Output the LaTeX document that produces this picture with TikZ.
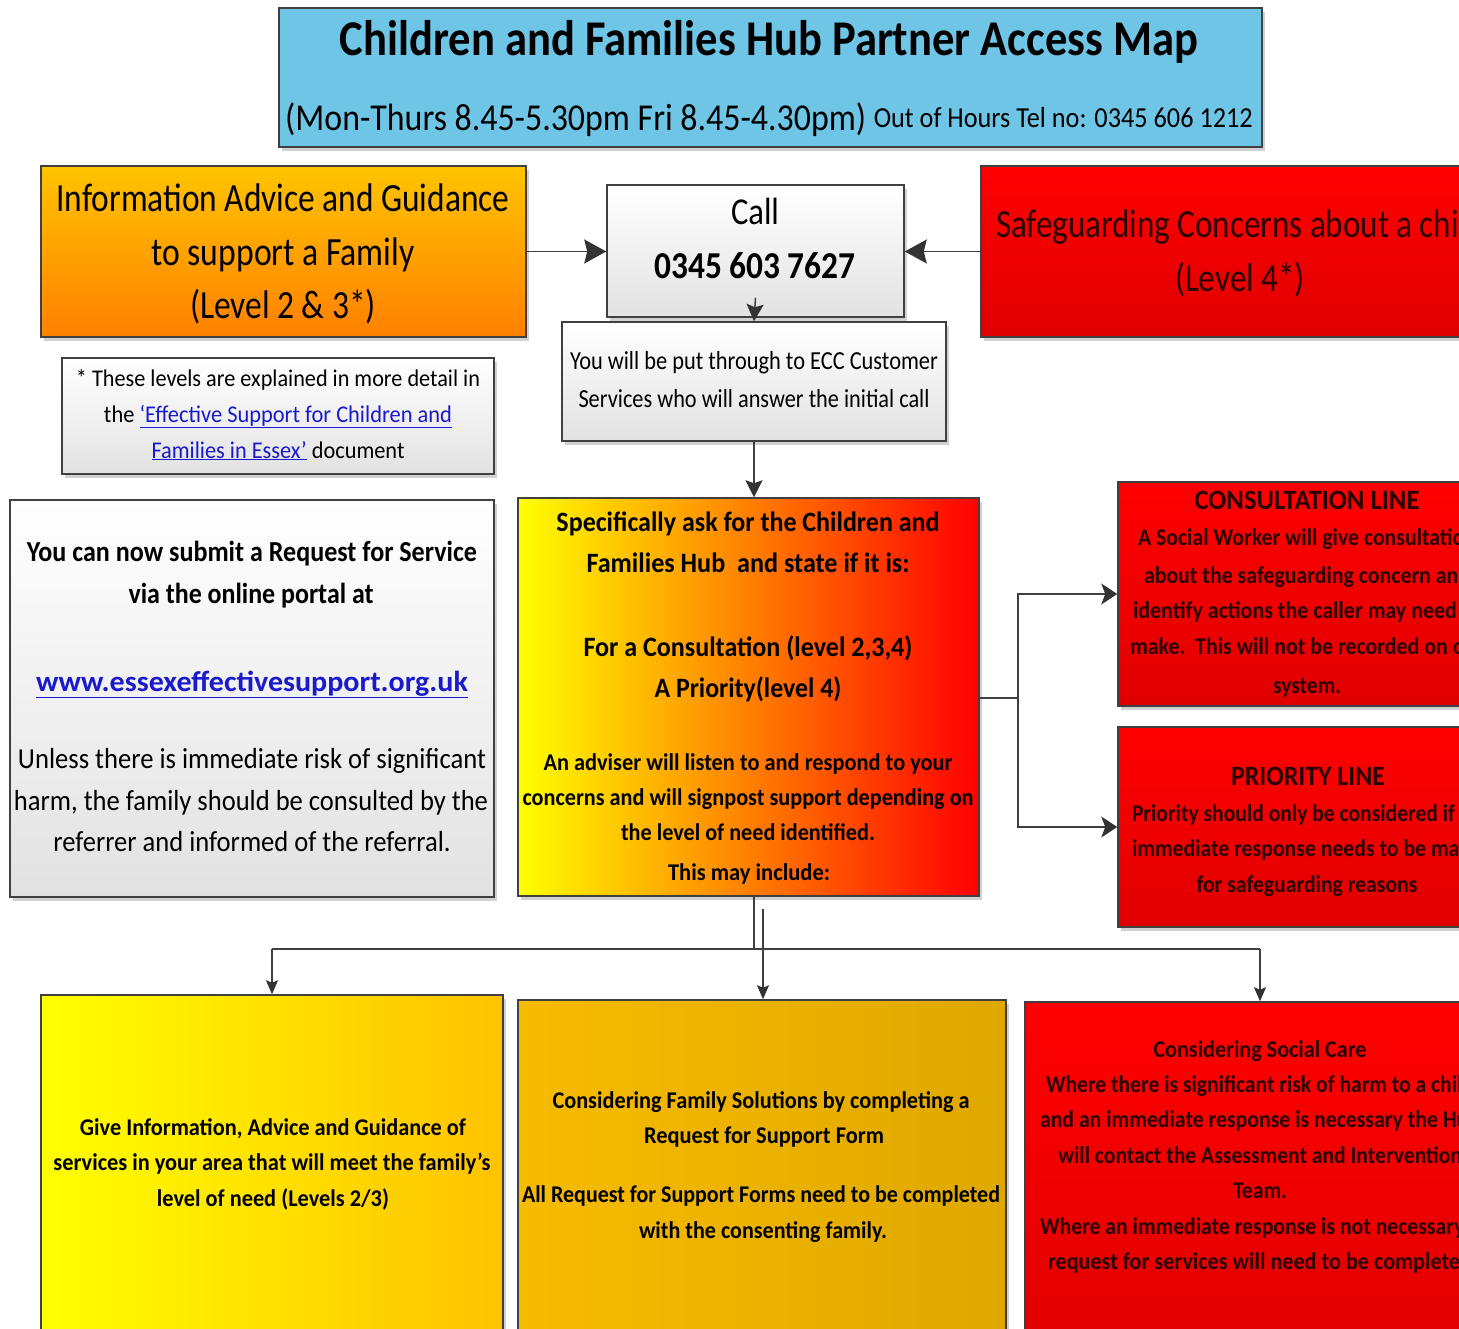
\documentclass[tikz,border=0pt]{standalone}
\usepackage{fontspec}
\setmainfont{Carlito}
\usepackage{graphicx}
\usetikzlibrary{arrows.meta,shadows,fit}

\definecolor{titleblue}{HTML}{6EC5E6}
\definecolor{edge}{HTML}{404040}
\definecolor{tipc}{HTML}{333333}
\definecolor{linkblue}{HTML}{1A1ACC}
\definecolor{greytop}{HTML}{FFFFFF}
\definecolor{greybot}{HTML}{E2E2E2}
\definecolor{iagtop}{HTML}{FFC400}
\definecolor{iagbot}{HTML}{FF8000}
\definecolor{redtop}{HTML}{FF0000}
\definecolor{redbot}{HTML}{E00000}
\definecolor{hubl}{HTML}{FFFF00}
\definecolor{hubm}{HTML}{FF9A00}
\definecolor{hubr}{HTML}{FF0000}
\definecolor{al}{HTML}{FFFF00}
\definecolor{ar}{HTML}{FFC200}
\definecolor{bl}{HTML}{F7BB00}
\definecolor{br}{HTML}{DFA800}
\definecolor{redtext}{HTML}{2A0000}

\newcommand\fz[1]{\fontsize{#1}{#1}\selectfont}
\newcommand\lnk[1]{\textcolor{linkblue}{\underline{#1}}}
\newcommand\tl[5]{\node[tline,#1] (#2) at (#3) {\resizebox{#4pt}{\height}{#5}};}

\tikzset{
  box/.style={draw=edge, line width=1.5pt, inner sep=0pt,
    drop shadow={shadow xshift=3pt, shadow yshift=-4pt, fill=black!18, opacity=1}},
  greybox/.style={box, top color=greytop, bottom color=greybot},
  redbox/.style={box, top color=redtop, bottom color=redbot},
  conn/.style={draw=edge, line width=1.5pt},
  arr/.style={conn, -{Stealth[length=22pt,width=24pt,inset=3pt,color=tipc]}},
  marr/.style={conn, -{Stealth[length=17pt,width=17pt,inset=3pt,color=tipc]}},
  rarr/.style={conn, -{Stealth[length=16pt,width=21pt,inset=4pt,color=tipc]}},
  sarr/.style={conn, -{Stealth[length=14pt,width=12pt,inset=2.5pt,color=tipc]}},
  tline/.style={anchor=base, inner sep=0pt, text=black},
  rt/.style={text=redtext},
}

\begin{document}
\begin{tikzpicture}[x=1pt,y=-1pt]
\useasboundingbox (0,0) rectangle (1459,1329);
\clip (0,0) rectangle (1459,1329);
\fill[white] (0,0) rectangle (1459,1329);

% ---------- boxes ----------
\node[box, fill=titleblue, fit={(279,8) (1262,147)}] (title) {};
\node[box, top color=iagtop, bottom color=iagbot, fit={(41,166) (526,337)}] (iag) {};
\node[greybox, fit={(607,185) (904,317)}] (call) {};
\node[redbox, fit={(981,166) (1496,337)}] (sg) {};
\node[greybox, fit={(562,322) (946,441)}] (ecc) {};
\node[greybox, fit={(62,358) (494,474)}] (note) {};
\node[greybox, fit={(10,500) (494,897)}] (portal) {};
\node[box, left color=hubl, middle color=hubm, right color=hubr, fit={(518,498) (979,896)}] (hub) {};
\node[redbox, fit={(1118,482) (1496,706)}] (cons) {};
\node[redbox, fit={(1118,727) (1496,927)}] (prio) {};
\node[box, left color=al, right color=ar, fit={(41,995) (503,1360)}] (boxa) {};
\node[box, left color=bl, right color=br, fit={(518,1000) (1006,1360)}] (boxb) {};
\node[redbox, fit={(1025,1002) (1495,1360)}] (boxc) {};

% ---------- connectors ----------
\draw[arr] (iag.east) -- (iag.east -| call.west);
\draw[arr] (sg.west) -- (sg.west -| call.east);
\draw[marr] ([yshift=20pt]call.south) -- (ecc.north);
\draw[marr] (ecc.south) -- (ecc.south |- hub.north);
\coordinate (hj) at (1018,698);
\draw[conn] (hub.east |- hj) -- (hj);
\draw[rarr] (hj) |- (cons.west);
\draw[rarr] (hj) |- (prio.west);
\coordinate (bj) at (754,949);
\coordinate (bleft) at (272,949);
\coordinate (bright) at (1260,949);
\coordinate (bm) at (763,909);
\draw[conn] (bj |- hub.south) -- (bj);
\draw[conn] (bleft) -- (bright);
\draw[sarr] (bleft) -- (bleft |- boxa.north);
\draw[sarr] (bright) -- (bright |- boxc.north);
\draw[sarr] (bm) -- (bm |- boxb.north);

% ---------- title ----------
\tl{font=\fz{50}\bfseries}{t1}{769,56}{858}{Children and Families Hub Partner Access Map}
\tl{font=\fz{38},anchor=base west}{t2}{285,131}{581}{(Mon-Thurs 8.45-5.30pm Fri 8.45-4.30pm)}
\tl{font=\fz{29},anchor=base east}{t3}{1253,128}{379}{Out of Hours Tel no: 0345 606 1212}

% ---------- IAG ----------
\tl{font=\fz{40}}{iag1}{283,212}{453}{Information Advice and Guidance}
\tl{font=\fz{40}}{iag2}{283,266}{263}{to support a Family}
\tl{font=\fz{40}}{iag3}{283,319}{186}{(Level 2 \& 3*)}

% ---------- call ----------
\tl{font=\fz{38}}{call1}{755,225}{48}{Call}
\tl{font=\fz{38}\bfseries}{call2}{755,279}{201}{0345 603 7627}

% ---------- safeguarding ----------
\tl{font=\fz{40},rt}{sg1}{1240,238}{488}{Safeguarding Concerns about a child}
\tl{font=\fz{40},rt}{sg2}{1240,292}{130}{(Level 4*)}

% ---------- ECC ----------
\tl{font=\fz{26}}{ecc1}{754,370}{368}{You will be put through to ECC Customer}
\tl{font=\fz{26}}{ecc2}{754,407}{351}{Services who will answer the initial call}

% ---------- note ----------
\tl{font=\fz{24}}{n1}{278,387}{404}{* These levels are explained in more detail in}
\tl{font=\fz{24}}{n2}{278,422}{348}{the \lnk{‘Effective Support for Children and}}
\tl{font=\fz{24}}{n3}{278,458}{253}{\lnk{Families in Essex’} document}

% ---------- portal ----------
\tl{font=\fz{29}\bfseries}{p1}{252,561}{450}{You can now submit a Request for Service}
\tl{font=\fz{29}\bfseries}{p2}{251,603}{245}{via the online portal at}
\tl{font=\fz{29}\bfseries}{p3}{252,691}{432}{\lnk{www.essexeffectivesupport.org.uk}}
\tl{font=\fz{29}}{p4}{252,768}{468}{Unless there is immediate risk of significant}
\tl{font=\fz{29}}{p5}{251,810}{474}{harm, the family should be consulted by the}
\tl{font=\fz{29}}{p6}{252,851}{397}{referrer and informed of the referral.}

% ---------- hub ----------
\tl{font=\fz{28}\bfseries}{h1}{748,531}{383}{Specifically ask for the Children and}
\tl{font=\fz{28}\bfseries}{h2}{748,572}{323}{Families Hub\ \ and state if it is:}
\tl{font=\fz{28}\bfseries}{h3}{748,656}{329}{For a Consultation (level 2,3,4)}
\tl{font=\fz{28}\bfseries}{h4}{748,697}{187}{A Priority(level 4)}
\tl{font=\fz{24}\bfseries}{h5}{748,770}{409}{An adviser will listen to and respond to your}
\tl{font=\fz{24}\bfseries}{h6}{748,805}{451}{concerns and will signpost support depending on}
\tl{font=\fz{24}\bfseries}{h7}{748,840}{254}{the level of need identified.}
\tl{font=\fz{24}\bfseries}{h8}{749,880}{162}{This may include:}

% ---------- consultation ----------
\tl{font=\fz{28}\bfseries,rt}{c1}{1307,509}{225}{CONSULTATION LINE}
\tl{font=\fz{24}\bfseries,rt}{c2}{1307,545}{338}{A Social Worker will give consultation}
\tl{font=\fz{24}\bfseries,rt}{c3}{1307,583}{326}{about the safeguarding concern and}
\tl{font=\fz{24}\bfseries,rt}{c4}{1307,618}{348}{identify actions the caller may need to}
\tl{font=\fz{24}\bfseries,rt}{c5}{1307,654}{354}{make.\ \ This will not be recorded on our}
\tl{font=\fz{24}\bfseries,rt}{c6}{1307,693}{68}{system.}

% ---------- priority ----------
\tl{font=\fz{28}\bfseries,rt}{r1}{1308,785}{154}{PRIORITY LINE}
\tl{font=\fz{24}\bfseries,rt}{r2}{1307,821}{350}{Priority should only be considered if an}
\tl{font=\fz{24}\bfseries,rt}{r3}{1307,856}{350}{immediate response needs to be made}
\tl{font=\fz{24}\bfseries,rt}{r4}{1307,892}{221}{for safeguarding reasons}

% ---------- bottom boxes ----------
\tl{font=\fz{24}\bfseries}{a1}{273,1135}{386}{Give Information, Advice and Guidance of}
\tl{font=\fz{24}\bfseries}{a2}{272,1170}{437}{services in your area that will meet the family's}
\tl{font=\fz{24}\bfseries}{a3}{273,1206}{232}{level of need (Levels 2/3)}

\tl{font=\fz{24}\bfseries}{b1}{761,1108}{417}{Considering Family Solutions by completing a}
\tl{font=\fz{24}\bfseries}{b2}{764,1143}{240}{Request for Support Form}
\tl{font=\fz{24}\bfseries}{b3}{761,1202}{478}{All Request for Support Forms need to be completed}
\tl{font=\fz{24}\bfseries}{b4}{763,1238}{248}{with the consenting family.}

\tl{font=\fz{24}\bfseries,rt}{k1}{1260,1057}{213}{Considering Social Care}
\tl{font=\fz{24}\bfseries,rt}{k2}{1260,1092}{428}{Where there is significant risk of harm to a child}
\tl{font=\fz{24}\bfseries,rt}{k3}{1260,1127}{440}{and an immediate response is necessary the Hub}
\tl{font=\fz{24}\bfseries,rt}{k4}{1260,1163}{404}{will contact the Assessment and Intervention}
\tl{font=\fz{24}\bfseries,rt}{k5}{1260,1198}{54}{Team.}
\tl{font=\fz{24}\bfseries,rt}{k6}{1260,1234}{440}{Where an immediate response is not necessary a}
\tl{font=\fz{24}\bfseries,rt}{k7}{1260,1269}{424}{request for services will need to be completed}
\end{tikzpicture}
\end{document}
